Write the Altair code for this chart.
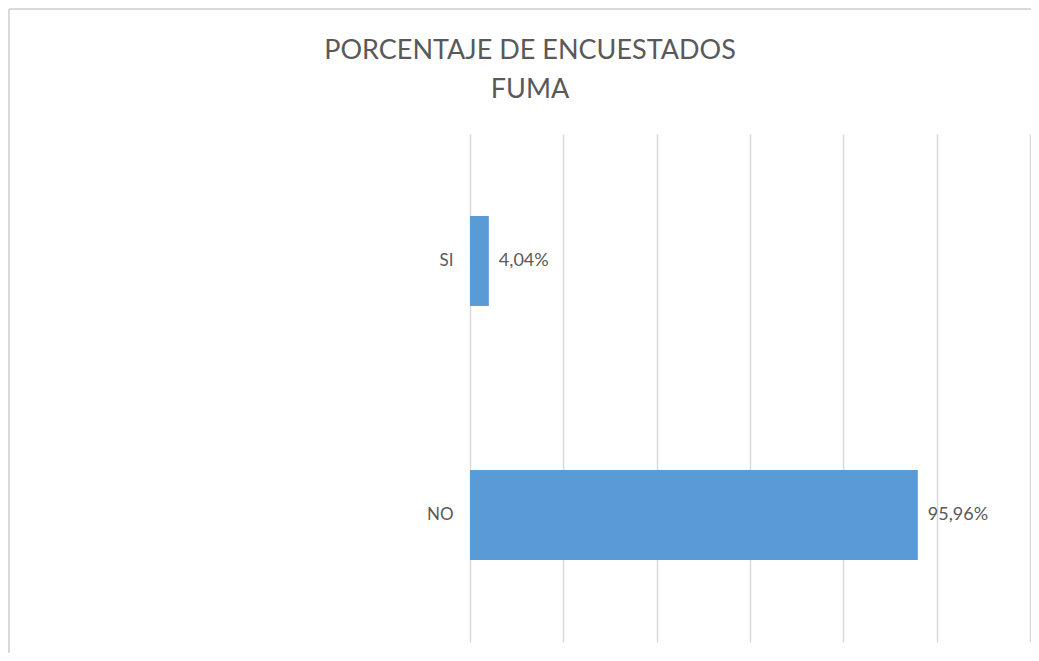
import altair as alt
import pandas as pd

categories = ["SI", "NO"]
values = [4.04, 95.96]
labels = [f"{v:.2f}".replace(".", ",") + "%" for v in values]
grid_ticks = [0, 20, 40, 60, 80, 100, 120]

df = pd.DataFrame({"cat": categories, "val": values, "label": labels})

TXT = "#595959"
GRID = "#D9D9D9"
FONT = "Lato"

base = alt.Chart(df)

bars = base.mark_bar(color="#5B9BD5").encode(
    x=alt.X("val:Q", scale=alt.Scale(domain=[0, 120], nice=False),
            axis=alt.Axis(values=grid_ticks, labels=False, ticks=False, domain=False,
                          grid=True, gridColor=GRID, gridWidth=1.5, title=None)),
    y=alt.Y("cat:N", sort=categories,
            scale=alt.Scale(paddingInner=0.646, paddingOuter=0.323),
            axis=alt.Axis(domain=False, ticks=False, grid=False, title=None,
                          labelFont=FONT, labelFontSize=17, labelColor=TXT,
                          labelPadding=17)),
)

text = base.mark_text(align="left", baseline="middle", dx=10, font=FONT,
                      fontSize=18, color=TXT).encode(
    x="val:Q", y=alt.Y("cat:N", sort=categories), text="label:N"
)

border_left = base.mark_rule(color=GRID, strokeWidth=2).encode(
    x=alt.value(-461), x2=alt.value(-461), y=alt.value(-125), y2=alt.value(530)
)
border_top = base.mark_rule(color=GRID, strokeWidth=2).encode(
    x=alt.value(-461), x2=alt.value(700), y=alt.value(-125), y2=alt.value(-125)
)

chart = alt.layer(border_left, border_top, bars, text).properties(
    width=560, height=508,
    autosize=alt.AutoSizeParams(type="none"),
    padding={"left": 462, "top": 126, "right": 1, "bottom": 11},
    title=alt.Title(["PORCENTAJE DE ENCUESTADOS", "FUMA"], font=FONT, fontSize=27,
                    fontWeight="normal", color=TXT, anchor="middle", frame="group",
                    baseline="alphabetic", dx=-220, lineHeight=39, offset=-117),
).configure_view(stroke=None)

chart.save("out.html", embed_options={"renderer": "svg", "actions": False})
